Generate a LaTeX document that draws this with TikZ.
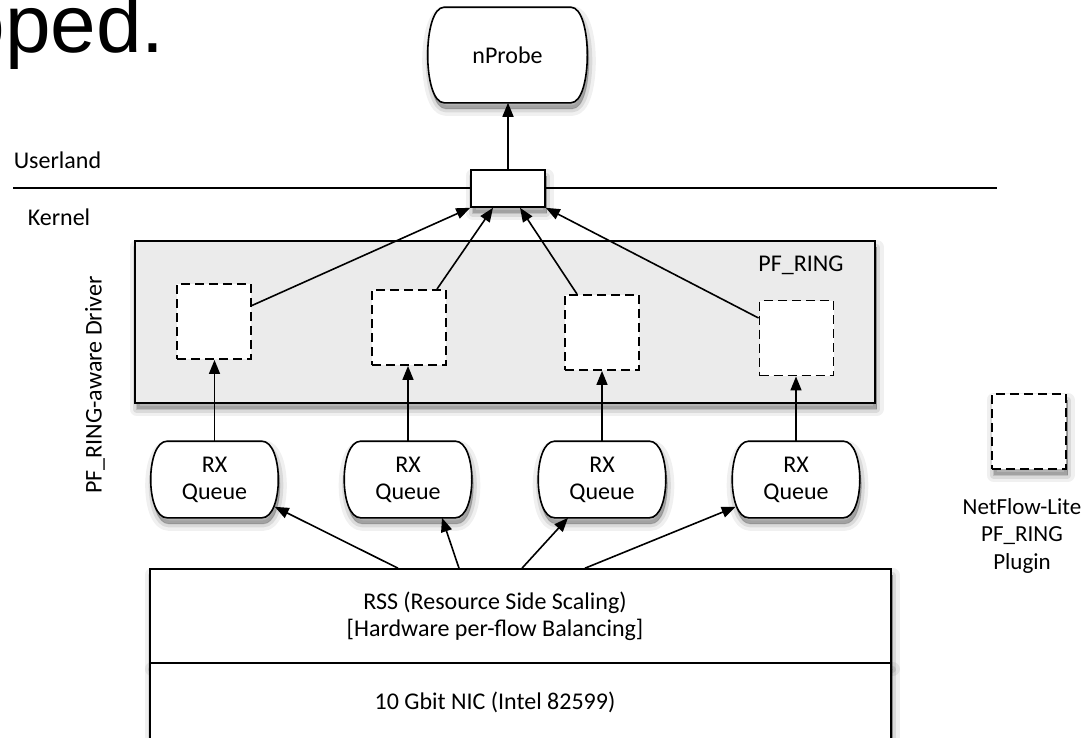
\documentclass[tikz,border=0pt]{standalone}
\usepackage{fontspec}
\setmainfont{Carlito}
\newfontfamily\slidefont{Liberation Sans}
\usetikzlibrary{arrows.meta,calc}
\newcommand\pillshape[1]{%
  \path[draw, fill=white, shad, line width=1.6pt]
    (#1.north west) -- (#1.north east)
    .. controls +(22,0) and +(22,0) .. (#1.south east)
    -- (#1.south west)
    .. controls +(-22,0) and +(-22,0) .. (#1.north west) -- cycle;}
\begin{document}
\begin{tikzpicture}[x=1pt,y=-1pt,
  font=\fontsize{24}{27}\selectfont,
  line width=1.6pt,
  shad/.style={
    preaction={draw=black, fill=black, solid, opacity=0.06, line width=14pt, line join=round, transform canvas={xshift=1.5pt,yshift=-6pt}},
    preaction={draw=black, fill=black, solid, opacity=0.09, line width=7pt, line join=round, transform canvas={xshift=1.5pt,yshift=-6pt}},
    preaction={draw=black, fill=black, solid, opacity=0.12, line width=1pt, transform canvas={xshift=1.5pt,yshift=-6pt}}},
  arr/.style={-{Triangle[length=14pt,width=11pt]}, line width=1.6pt},
  pillcore/.style={inner sep=0, minimum width=93pt, minimum height=75pt},
  dbox/.style={draw, line width=1.9pt, dash pattern=on 9pt off 5pt, fill=white, minimum width=74pt, minimum height=75pt, inner sep=0},
  lbl/.style={inner sep=0},
  plainbox/.style={draw, fill=white, inner sep=0},
]
\fill[white] (0,0) rectangle (1084,737);
\useasboundingbox (0,0) rectangle (1084,737);

% slide fragment
\node[font=\slidefont\fontsize{82}{86}\selectfont, anchor=base east, inner sep=0] (slide) at (165.5,52) {oped.};

% nProbe
\node[pillcore, minimum width=125pt, minimum height=94pt] (nprobe) at (507.5,55) {};
\pillshape{nprobe}
\node[lbl] (nprobet) at (nprobe) {nProbe};

% Userland / Kernel divider
\coordinate (ul) at (13,188);
\coordinate (ur) at (997,188);
\draw (ul) -- (ur);
\node[lbl, anchor=west] (user) at (13,160) {Userland};
\node[lbl, anchor=west] (kern) at (27,217) {Kernel};

% PF_RING box
\node[draw, fill=black!8, shad, minimum width=740pt, minimum height=162pt, inner sep=0] (ring) at (505,322) {};
\node[lbl] (ringlbl) at (801,265) {PF\_RING};
\node[lbl, rotate=90] (drv) at (95,385) {PF\_RING-aware Driver};

% tap
\node[plainbox, shad, minimum width=74pt, minimum height=37pt] (tap) at (508,188.5) {};

% plugins
\node[dbox] (d1) at (214,321.5) {};
\node[dbox] (d2) at (409,327.5) {};
\node[dbox] (d3) at (602,332.5) {};
\node[dbox] (d4) at (796.5,338) {};

% RX queues
\node[pillcore] (q1) at (214.5,479.5) {};
\pillshape{q1}
\node[lbl, align=center] (q1t) at (q1) {RX\\Queue};
\node[pillcore] (q2) at (408,479.5) {};
\pillshape{q2}
\node[lbl, align=center] (q2t) at (q2) {RX\\Queue};
\node[pillcore] (q3) at (602,479.5) {};
\pillshape{q3}
\node[lbl, align=center] (q3t) at (q3) {RX\\Queue};
\node[pillcore] (q4) at (796,479.5) {};
\pillshape{q4}
\node[lbl, align=center] (q4t) at (q4) {RX\\Queue};

% NIC
\node[plainbox, shad, minimum width=741pt, minimum height=94pt] (rss) at (520.5,616) {};
\node[plainbox, shad, minimum width=741pt, minimum height=100pt] (nic) at (520.5,713) {};
\node[lbl, align=center] (rsstxt) at (495,616.5) {RSS (Resource Side Scaling)\\{[}Hardware per-flow Balancing{]}};
\node[lbl] (nictxt) at (495,702) {10 Gbit NIC (Intel 82599)};

% legend
\node[dbox, shad] (leg) at (1029,431.5) {};
\node[lbl, align=center, font=\fontsize{23}{27.5}\selectfont] (legtxt) at (1022,535.5) {NetFlow-Lite\\PF\_RING\\Plugin};

% connectors
\draw[arr] (tap.north) -- (tap.north |- nprobe.south);
\draw[arr] ($(d1.east)+(0,-16)$) -- (tap.south west);
\draw[arr] ($(d2.north)+(28,0)$) -- ($(tap.south)+(-15,0)$);
\draw[arr] ($(d3.north)+(-25,0)$) -- ($(tap.south)+(12,0)$);
\draw[arr] ($(d4.west)+(0,-20)$) -- (tap.south east);

\draw[arr] (q1.north) -- (q1.north |- d1.south);
\draw[arr] (q2.north) -- (q2.north |- d2.south);
\draw[arr] (q3.north) -- (q3.north |- d3.south);
\draw[arr] (q4.north) -- (q4.north |- d4.south);

\draw[arr] ($(rss.north)+(-122.5,0)$) -- ($(q1.south east)+(13,-11)$);
\draw[arr] ($(rss.north)+(-61.5,0)$) -- ($(q2.south)+(34,0)$);
\draw[arr] ($(rss.north)+(1.5,0)$) -- ($(q3.south)+(-34,0)$);
\draw[arr] ($(rss.north)+(64.5,0)$) -- ($(q4.south west)+(-13,-11)$);
\end{tikzpicture}
\end{document}
